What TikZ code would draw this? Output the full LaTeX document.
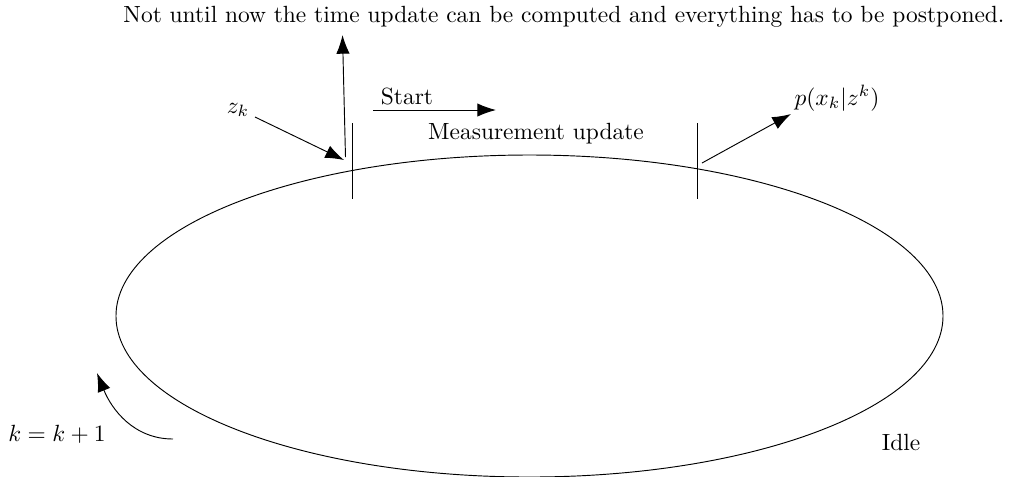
\documentclass[tikz,border=0pt]{standalone}
\usepackage{amsmath}
\usepackage{amssymb}
\usepackage{tikz}
\usetikzlibrary{arrows.meta}

\begin{document}
\begin{tikzpicture}[x=0.015cm,y=-0.015cm,
    lbl/.style={inner sep=1pt},
    arr/.style={-{Latex[length=2.8mm,width=2mm]}}]
            \useasboundingbox (0,0) rectangle (1015,476);
            % cycle
            \draw (529.5,316) ellipse [x radius=6.2025cm, y radius=2.415cm];
            \draw (352,123) -- (352,199);
            \draw (697,123) -- (697,199);
            % labels
            \node[lbl] (post) at (564,17) {Not until now the time update can be computed and everything has to be postponed.};
            \node[lbl] (zk) at (238,110) {$z_k$};
            \node[lbl] (start) at (407,96) {Start};
            \node[lbl] (meas) at (536,134) {Measurement update};
            \node[lbl] (pxz) at (837,98) {$p(x_k|z^k)$};
            \node[lbl] (kk) at (57,434) {$k=k+1$};
            \node[lbl] (idle) at (901,442) {Idle};
            % arrows
            \coordinate (upfoot) at (345.5,157);
            \coordinate (uptip) at (342.5,35);
            \coordinate (zfoot) at (255,117);
            \coordinate (ztip) at (344,160);
            \coordinate (sfoot) at (373,110);
            \coordinate (stip) at (496,110);
            \coordinate (pfoot) at (702,163);
            \coordinate (ptip) at (791,114);
            \coordinate (kfoot) at (173,439);
            \coordinate (ktip) at (97,373);
            \draw[arr] (upfoot) -- (uptip);
            \draw[arr] (zfoot) -- (ztip);
            \draw[arr] (sfoot) -- (stip);
            \draw[arr] (pfoot) -- (ptip);
            \draw[arr] (kfoot) to[out=180,in=-68] (ktip);
        \end{tikzpicture}
\end{document}
